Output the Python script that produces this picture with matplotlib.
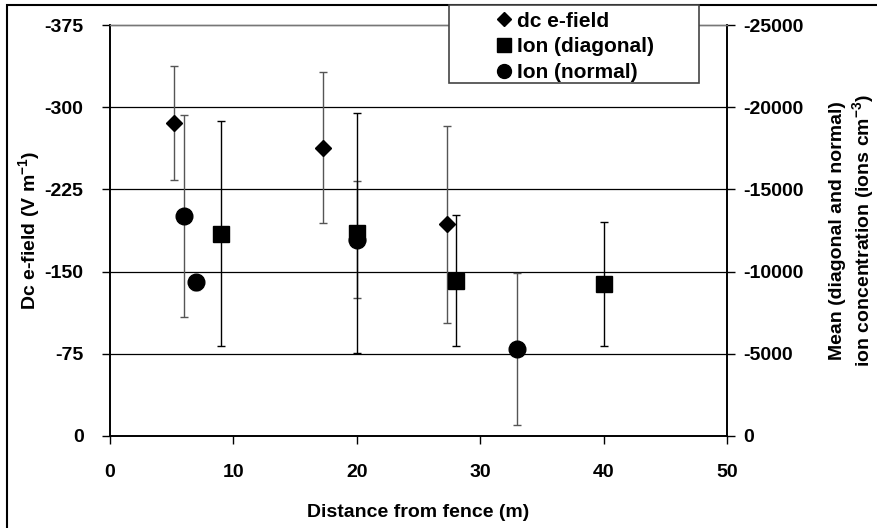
import matplotlib

matplotlib.use("Agg")
import matplotlib.pyplot as plt
from matplotlib.lines import Line2D
from matplotlib.patches import Rectangle

plt.rcParams["font.family"] = ["Liberation Sans", "DejaVu Sans"]
plt.rcParams["font.weight"] = "bold"
plt.rcParams["axes.unicode_minus"] = False
plt.rcParams["mathtext.fontset"] = "custom"
plt.rcParams["mathtext.rm"] = "Liberation Sans:bold"
plt.rcParams["mathtext.bf"] = "Liberation Sans:bold"
plt.rcParams["mathtext.default"] = "bf"

# dc e-field (left axis, V m^-1)
efield_x = [5.2, 17.3, 27.3]
efield_y = [-286, -263, -193]
efield_err = [52, 69, 90]

# ion concentration, diagonal (right axis, ions cm^-3)
diag_x = [9, 20, 28, 40]
diag_y = [-12300, -12350, -9450, -9250]
diag_err = [6850, 7300, 4000, 3750]

# ion concentration, normal (right axis)
normal_x = [6, 7, 20, 33]
normal_y = [-13380, -9350, -11950, -5300]
normal_err = [6160, 470, 3560, 4630]

left_ticks = [0, -75, -150, -225, -300, -375]
right_ticks = [0, -5000, -10000, -15000, -20000, -25000]
x_ticks = [0, 10, 20, 30, 40, 50]

W, H = 878, 528
fig = plt.figure(figsize=(W / 100, H / 100), dpi=100)
ax = fig.add_axes([110 / W, 1 - 436 / H, 617 / W, 411 / H])
ax2 = ax.twinx()

# gridlines on left axis ticks
for t in left_ticks[1:-1]:
    ax.axhline(t, color="black", linewidth=0.9, zorder=0)

ax.errorbar(efield_x, efield_y, yerr=efield_err, fmt="D", color="black",
            ecolor="#555555", elinewidth=1.0, capsize=3, capthick=1.0,
            markersize=8.5, zorder=3)
ax2.errorbar(normal_x, normal_y, yerr=normal_err, fmt="o", color="black",
             ecolor="#555555", elinewidth=1.0, capsize=3, capthick=1.0,
             markersize=12, zorder=3)
ax2.errorbar(diag_x, diag_y, yerr=diag_err, fmt="s", color="black",
             ecolor="black", elinewidth=1.0, capsize=3, capthick=1.0,
             markersize=11.5, zorder=4)

ax.set_xlim(0, 50)
ax.set_ylim(0, -375)
ax2.set_ylim(0, -25000)
ax.set_xticks(x_ticks)
ax.set_yticks(left_ticks)
ax2.set_yticks(right_ticks)

ax.tick_params(axis="x", labelsize=14, direction="out", length=6, width=1, pad=14)
ax.tick_params(axis="y", labelsize=14, direction="out", length=6, width=1, pad=13)
ax2.tick_params(axis="y", labelsize=14, direction="out", length=6, width=1, pad=6)
for a in (ax, ax2):
    for lab in a.get_xticklabels() + a.get_yticklabels():
        lab.set_fontweight("bold")
    for s in ("left", "right", "bottom"):
        a.spines[s].set_linewidth(1.2)
    a.spines["top"].set_color("#777777")
    a.spines["top"].set_linewidth(1.0)

ax.set_xlabel("Distance from fence (m)", fontsize=14, fontweight="bold", labelpad=17)
ax.set_ylabel("Dc e-field (V m$^{-1}$)", fontsize=14, fontweight="bold", labelpad=2)
ax2.set_ylabel("Mean (diagonal and normal)\nion concentration (ions cm$^{-3}$)",
               fontsize=14, fontweight="bold", labelpad=18, linespacing=1.2)

# legend frame drawn as a separate white box
fig.patches.append(Rectangle((449.5 / W, 1 - 83 / H), 249.5 / W, 78 / H,
                             transform=fig.transFigure, facecolor="white",
                             edgecolor="#444444", linewidth=1.2, zorder=5))
handles = [
    Line2D([], [], marker="D", color="black", linestyle="none", markersize=7.5),
    Line2D([], [], marker="s", color="black", linestyle="none", markersize=10),
    Line2D([], [], marker="o", color="black", linestyle="none", markersize=10),
]
leg = fig.legend(handles, ["dc e-field", "Ion (diagonal)", "Ion (normal)"],
                 loc="center left", bbox_to_anchor=(494 / W, 1 - 47 / H),
                 prop={"weight": "bold", "size": 15}, frameon=False,
                 handletextpad=0.1, handlelength=1.0, borderpad=0,
                 labelspacing=0.33, borderaxespad=0)
leg.set_zorder(10)

# outer chart frame (only left and top edges visible)
fig.patches.append(Rectangle((7.5 / W, -0.1), 1.2, 1.1 - 5 / H,
                             transform=fig.transFigure, fill=False,
                             edgecolor="black", linewidth=1.5, zorder=4))

fig.savefig("out.png", dpi=100)
